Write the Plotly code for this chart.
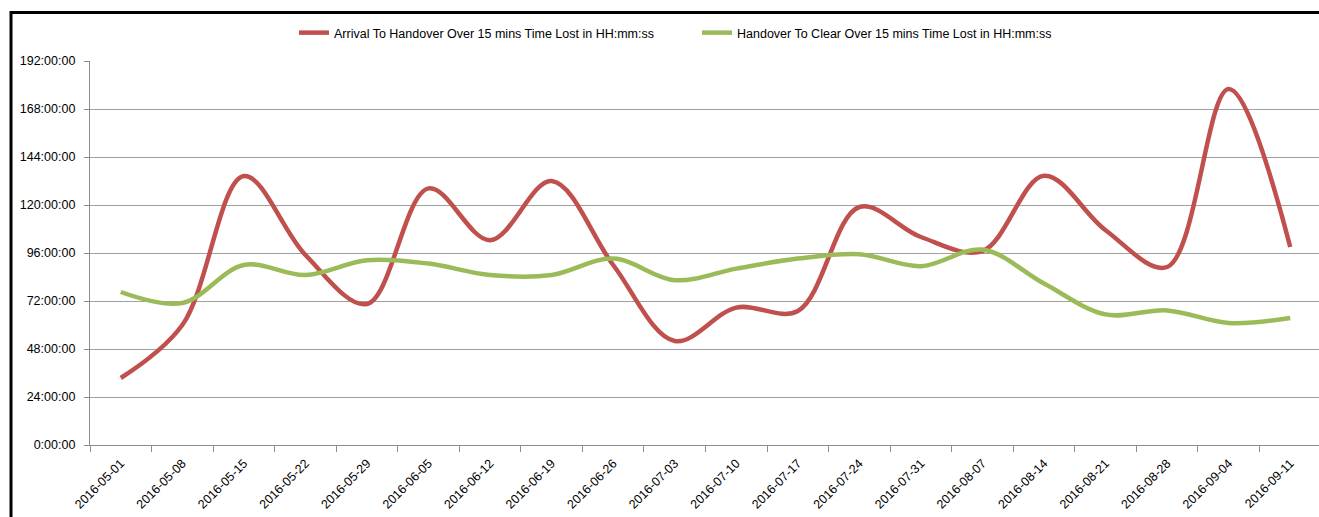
import plotly.graph_objects as go

weeks = ["2016-05-01", "2016-05-08", "2016-05-15", "2016-05-22", "2016-05-29",
         "2016-06-05", "2016-06-12", "2016-06-19", "2016-06-26", "2016-07-03",
         "2016-07-10", "2016-07-17", "2016-07-24", "2016-07-31", "2016-08-07",
         "2016-08-14", "2016-08-21", "2016-08-28", "2016-09-04", "2016-09-11"]

# hours lost
arrival_to_handover = [33.5, 60, 134.5, 95, 70.5, 128.3, 102.4, 132, 90, 52,
                       68.7, 67, 119, 104, 97, 134.6, 107.4, 89, 178, 99]
handover_to_clear = [76.5, 71, 90, 85, 92.4, 90.7, 85, 85, 93.2, 82.4,
                     88.2, 93.2, 95.4, 89.4, 97.7, 80.7, 65.3, 67.3, 61, 63.5]

ytick_vals = [0, 24, 48, 72, 96, 120, 144, 168, 192]
ytick_text = ["0:00:00", "24:00:00", "48:00:00", "72:00:00", "96:00:00",
              "120:00:00", "144:00:00", "168:00:00", "192:00:00"]

name_red = "Arrival To Handover Over 15 mins Time Lost in HH:mm:ss"
name_green = "Handover To Clear Over 15 mins Time Lost in HH:mm:ss"

FONT = "Liberation Sans, Arial, sans-serif"

fig = go.Figure()
fig.add_trace(go.Scatter(x=weeks, y=arrival_to_handover, mode="lines", name=name_red,
                         line=dict(color="#C0504D", width=4.5, shape="spline", smoothing=1)))
fig.add_trace(go.Scatter(x=weeks, y=handover_to_clear, mode="lines", name=name_green,
                         line=dict(color="#9BBB59", width=4.5, shape="spline", smoothing=1)))

W, H = 1319, 517
L, R, T, B = 90, 0, 61, 72
pw = W - L - R
ph = H - T - B

fig.update_layout(
    width=W, height=H,
    margin=dict(l=L, r=R, t=T, b=B),
    paper_bgcolor="white", plot_bgcolor="white",
    font=dict(family=FONT, size=12, color="#000000"),
    showlegend=True,
    legend=dict(orientation="h", x=(294 - L) / pw, xanchor="left",
                y=1 + (T - 33) / ph, yanchor="middle",
                font=dict(size=12.5, family=FONT, color="#000000"),
                entrywidth=358, itemwidth=30, bgcolor="rgba(0,0,0,0)"),
    xaxis=dict(type="category", range=[-0.5, 19.5 - 2 / 61.5],
               tickson="boundaries", ticks="outside", ticklen=6, tickcolor="#8c8c8c",
               showgrid=False, showline=True, linecolor="#8c8c8c", linewidth=1.3,
               tickangle=-45, tickfont=dict(size=12.5, family=FONT, color="#000000"),
               ticklabelstandoff=5),
    yaxis=dict(range=[0, 192], tickvals=ytick_vals, ticktext=ytick_text,
               ticks="outside", ticklen=5, tickcolor="#8c8c8c",
               showgrid=True, gridcolor="#a0a0a0", gridwidth=1.3,
               showline=True, linecolor="#8c8c8c", linewidth=1.3,
               zeroline=False,
               tickfont=dict(size=12.5, family=FONT, color="#000000"),
               ticklabelstandoff=6),
    shapes=[dict(type="rect", xref="paper", yref="paper",
                 x0=(11 - L) / pw, x1=1.05,
                 y0=-0.5, y1=1 + (T - 12.5) / ph,
                 line=dict(color="#000000", width=3), layer="above")],
)

fig.write_html("out.html")
